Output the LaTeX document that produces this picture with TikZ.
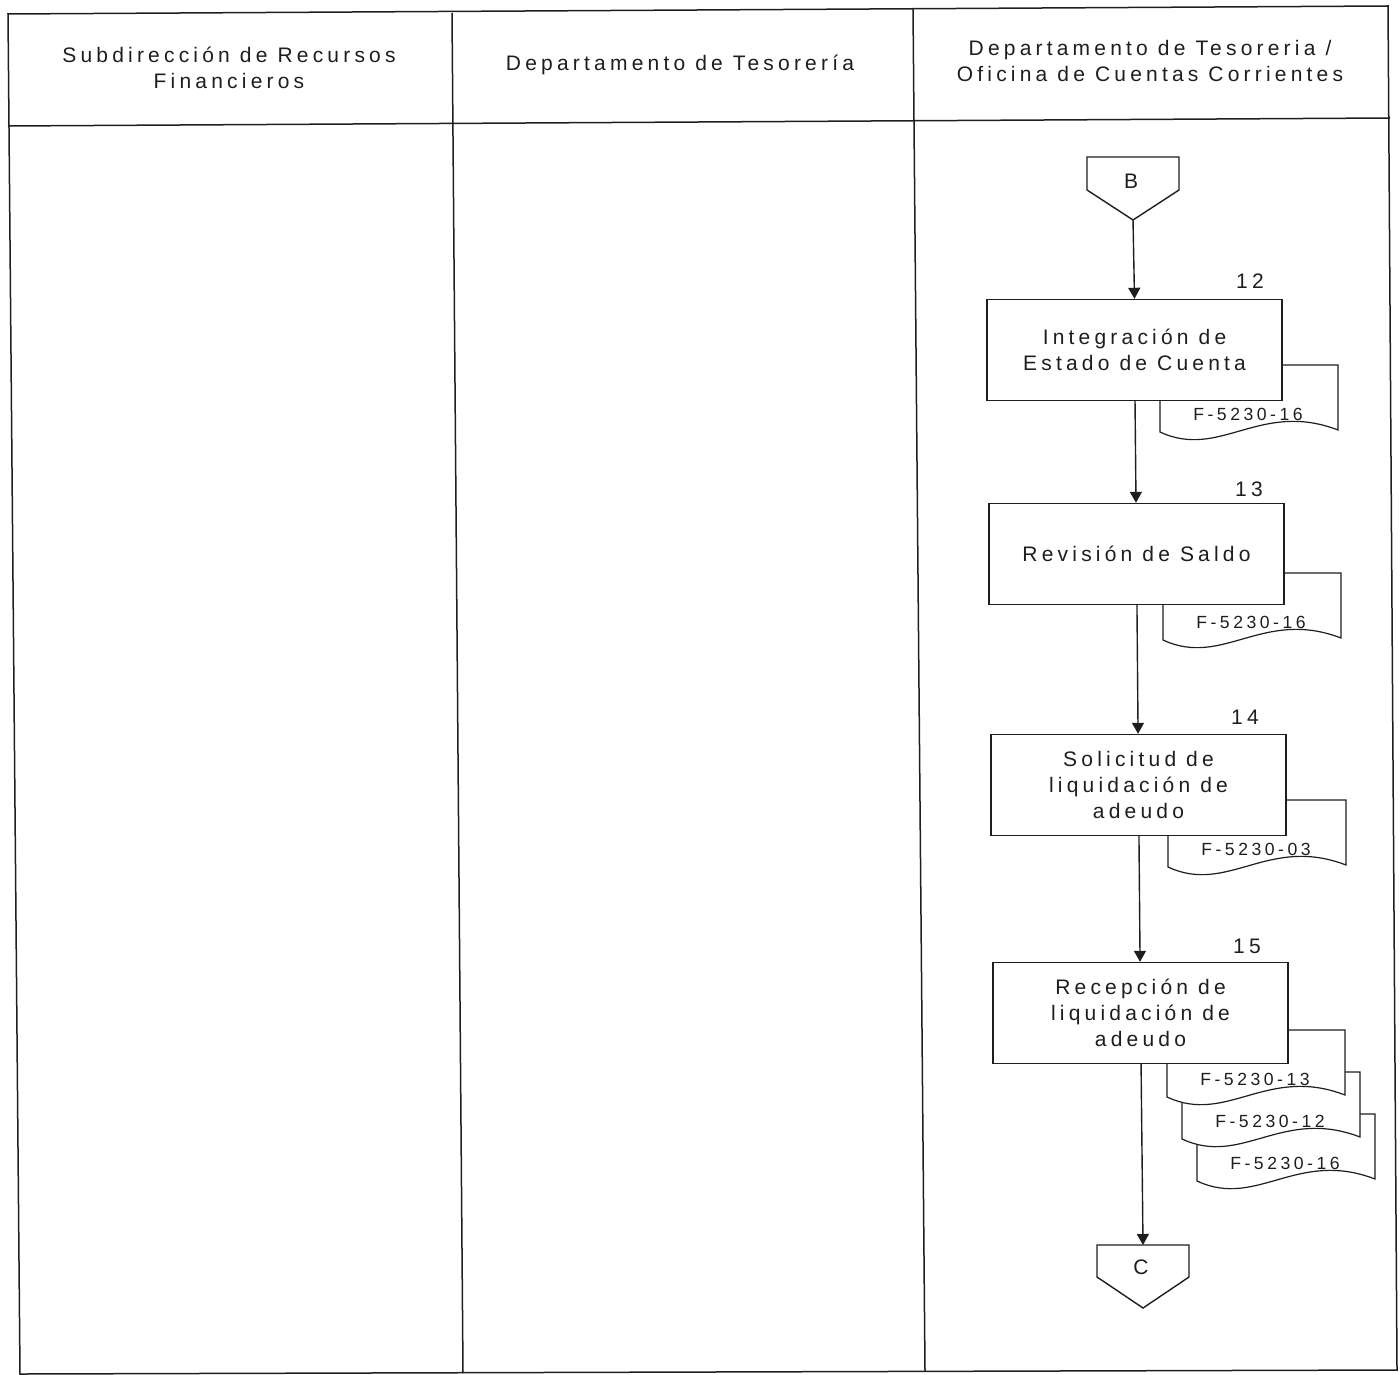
\documentclass[tikz,border=0pt]{standalone}
\usepackage{fontspec}
\setmainfont{Liberation Sans}[LetterSpace=20]
\usepackage{xcolor}
\usetikzlibrary{arrows.meta, positioning, calc}
\definecolor{clinea}{HTML}{1E1E1E}

% hoja de formato: nombre, x, y (esquina superior izquierda), texto
\newcommand{\documento}[4]{%
    \begin{scope}[shift={(#2,#3)}]
        \draw[hoja] (0,0) -- (0,67)
            .. controls (60,95) and (100,35) .. (178,65) -- (178,0) -- cycle;
        \node[doctxt] (#1) at (88,49) {#4};
    \end{scope}}

\begin{document}
\begin{tikzpicture}[
    x=0.5pt, y=-0.5pt,
    font=\fontsize{10.5}{13}\selectfont,
    marco/.style={draw=clinea, line width=0.75pt},
    titulo/.style={align=center, inner sep=0pt, text=clinea},
    proceso/.style={
        rectangle, draw=clinea, fill=white, line width=0.7pt,
        minimum width=147.5pt, minimum height=50.5pt, align=center,
        inner sep=2pt, text=clinea
    },
    hoja/.style={draw=clinea, fill=white, line width=0.6pt},
    doctxt/.style={font=\fontsize{8.8}{10}\selectfont, inner sep=0pt, text=clinea},
    num/.style={inner sep=0pt, text=clinea},
    letra/.style={inner sep=0pt, text=clinea},
    conector/.style={draw=clinea, fill=white, line width=0.7pt},
    flecha/.style={-{Triangle[width=6pt,length=5.5pt]}, line width=0.7pt, draw=clinea},
]
\useasboundingbox (0,0) rectangle (1400,1374);

% --- Marco y carriles --------------------------------------------------------
\draw[marco] (8,14) -- (1388,6) -- (1397,1370) -- (20,1374) -- cycle;
\draw[marco] (8,126) -- (1390,118);
\draw[marco] (452,13) -- (463,1373);
\draw[marco] (913,9) -- (925,1371);

\node[titulo] (col1) at (229,68) {Subdirección de Recursos\\Financieros};
\node[titulo] (col2) at (680,65) {Departamento de Tesorería};
\node[titulo] (col3) at (1150,61) {Departamento de Tesoreria /\\Oficina de Cuentas Corrientes};

% --- Conector de entrada B ---------------------------------------------------
\draw[conector] (1087,157) -- (1179,157) -- (1179,190) -- (1133,220)
    -- (1087,190) -- cycle;
\node[letra] (conB) at (1131,181) {B};
\coordinate (bpunta) at (1133,220);

% --- Formatos (detras de las actividades) ------------------------------------
\documento{f12}{1160}{365}{F-5230-16}
\documento{f13}{1163}{573}{F-5230-16}
\documento{f14}{1168}{800}{F-5230-03}
\documento{f15c}{1197}{1114}{F-5230-16}
\documento{f15b}{1182}{1072}{F-5230-12}
\documento{f15a}{1167}{1030}{F-5230-13}

% --- Actividades -------------------------------------------------------------
\node[proceso] (p12) at (1134.5,350) {Integración de\\Estado de Cuenta};
\node[num] (n12) at (1250,281) {12};

\node[proceso] (p13) at (1136.5,554) {Revisión de Saldo};
\node[num] (n13) at (1249,489) {13};

\node[proceso] (p14) at (1138.5,785) {Solicitud de\\liquidación de\\adeudo};
\node[num] (n14) at (1245,717) {14};

\node[proceso] (p15) at (1140.5,1013) {Recepción de\\liquidación de\\adeudo};
\node[num] (n15) at (1247,946) {15};

% --- Conector de salida C ----------------------------------------------------
\draw[conector] (1097,1245) -- (1189,1245) -- (1189,1277) -- (1143,1308)
    -- (1097,1277) -- cycle;
\node[letra] (conC) at (1141,1267) {C};
\coordinate (ctope) at (1143,1245);

% --- Flujo -------------------------------------------------------------------
\draw[flecha] (bpunta) -- (p12.north);
\draw[flecha] (p12) -- (p13);
\draw[flecha] (p13) -- (p14);
\draw[flecha] (p14) -- (p15);
\draw[flecha] (p15) -- (ctope);

\end{tikzpicture}
\end{document}
